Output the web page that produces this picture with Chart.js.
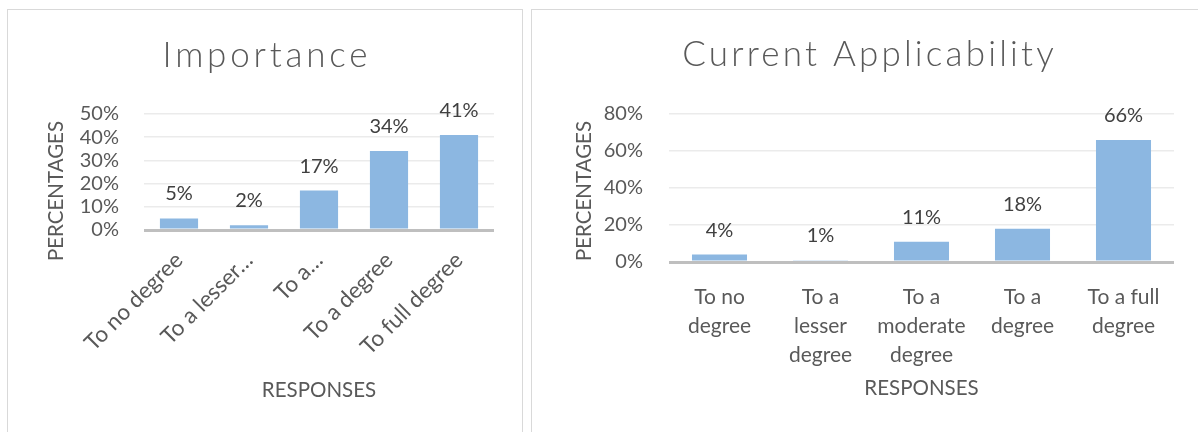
<!DOCTYPE html>
<html>
<head>
<meta charset="utf-8">
<title>Importance / Current Applicability</title>
<script src="https://cdn.jsdelivr.net/npm/chart.js@4.4.1/dist/chart.umd.min.js"></script>
<style>
  html, body { margin: 0; padding: 0; background: #fff; }
  body { width: 1198px; height: 432px; position: relative; overflow: hidden; font-family: Lato, sans-serif; }
  .panel { position: absolute; top: 9px; height: 440px; border: 1px solid #d9d9d9; box-sizing: border-box; }
  #panelLeft { left: 7px; width: 516px; }
  #panelRight { left: 531px; width: 700px; }
  canvas { position: absolute; }
  #importanceChart { left: 8px; top: 10px; }
  #applicabilityChart { left: 532px; top: 10px; }
</style>
</head>
<body>
<div class="panel" id="panelLeft"></div>
<div class="panel" id="panelRight"></div>
<canvas id="importanceChart" width="514" height="422"></canvas>
<canvas id="applicabilityChart" width="666" height="422"></canvas>

<script>
// --- data ---
const importanceLabels = ['To no degree', 'To a lesser\u2026', 'To a\u2026', 'To a degree', 'To full degree'];
const importanceValues = [5, 2, 17, 34, 41];
const importanceTickMax = 50;
const importanceTickStep = 10;

const applicabilityLabels = [
    ['To no', 'degree'],
    ['To a', 'lesser', 'degree'],
    ['To a', 'moderate', 'degree'],
    ['To a', 'degree'],
    ['To a full', 'degree']
];
const applicabilityValues = [4, 1, 11, 18, 66];
const applicabilityTickMax = 80;
const applicabilityTickStep = 20;

const yAxisTitle = 'PERCENTAGES';
const xAxisTitle = 'RESPONSES';

const barColor = '#8cb7e1';
const textColor = '#595959';
const labelColor = '#404040';

// draws the chart title, axis titles and the value labels above bars
const excelTextPlugin = {
    id: 'excelText',
    afterDraw(chart, args, opts) {
        const ctx = chart.ctx;
        const area = chart.chartArea;
        ctx.save();

        // value labels
        ctx.font = '20px Lato';
        ctx.fillStyle = labelColor;
        ctx.textAlign = 'center';
        ctx.textBaseline = 'alphabetic';
        chart.getDatasetMeta(0).data.forEach((bar, i) => {
            ctx.fillText(chart.data.datasets[0].data[i] + '%', bar.x, bar.y - 18);
        });

        // chart title (light, wide spacing)
        ctx.font = '300 35px Lato';
        ctx.fillStyle = textColor;
        ctx.letterSpacing = opts.titleSpacing + 'px';
        ctx.fillText(opts.title, opts.titleX + opts.titleSpacing / 2, opts.titleY);
        ctx.letterSpacing = '0px';

        // axis titles
        ctx.font = '20.5px Lato';
        ctx.textBaseline = 'middle';
        ctx.fillText(xAxisTitle, (area.left + area.right) / 2, opts.xTitleY);
        ctx.translate(opts.yTitleX, opts.yTitleY);
        ctx.rotate(-Math.PI / 2);
        ctx.fillText(yAxisTitle, 0, 0);

        ctx.restore();
    }
};

function makeBarChart(id, labels, values, tickMax, tickStep, look) {
    const ctx = document.getElementById(id).getContext('2d');
    return new Chart(ctx, {
        type: 'bar',
        data: {
            labels: labels,
            datasets: [{
                data: values,
                backgroundColor: barColor,
                categoryPercentage: 1,
                barPercentage: 0.545
            }]
        },
        options: {
            responsive: false,
            animation: false,
            layout: { padding: look.padding },
            plugins: {
                legend: { display: false },
                tooltip: { enabled: false },
                excelText: look.text
            },
            scales: {
                x: {
                    grid: { display: false, drawTicks: false },
                    border: { display: false },
                    ticks: {
                        autoSkip: false,
                        color: textColor,
                        font: { family: 'Lato', size: look.xFontSize, lineHeight: look.xLineHeight },
                        minRotation: look.rotation,
                        maxRotation: look.rotation,
                        padding: look.xTickPadding
                    },
                    afterFit(scale) { scale.height = look.xHeight; }
                },
                y: {
                    min: 0,
                    max: tickMax,
                    border: { display: false },
                    grid: {
                        drawTicks: false,
                        color: c => c.tick && c.tick.value === 0 ? '#bfbfbf' : '#ebebeb',
                        lineWidth: c => c.tick && c.tick.value === 0 ? 3 : 1.5
                    },
                    ticks: {
                        autoSkip: false,
                        stepSize: tickStep,
                        color: textColor,
                        font: { family: 'Lato', size: 20 },
                        padding: look.yTickPadding,
                        callback: v => v + '%'
                    },
                    afterFit(scale) { scale.width = look.yWidth; }
                }
            }
        },
        plugins: [excelTextPlugin]
    });
}

makeBarChart('importanceChart', importanceLabels, importanceValues, importanceTickMax, importanceTickStep, {
    padding: { left: 0, right: 28, top: 104, bottom: 52 },
    yWidth: 136,
    xHeight: 150,
    xFontSize: 22.5,
    xLineHeight: 1.2,
    rotation: 45,
    xTickPadding: 17,
    yTickPadding: 25,
    text: { title: 'Importance', titleX: 257, titleY: 57, titleSpacing: 3.8,
            xTitleY: 380, yTitleX: 48.5, yTitleY: 181 }
});

makeBarChart('applicabilityChart', applicabilityLabels, applicabilityValues, applicabilityTickMax, applicabilityTickStep, {
    padding: { left: 0, right: 24, top: 104, bottom: 50 },
    yWidth: 137,
    xHeight: 120,
    xFontSize: 21,
    xLineHeight: 1.38,
    rotation: 0,
    xTickPadding: 21,
    yTickPadding: 26,
    text: { title: 'Current Applicability', titleX: 336, titleY: 56, titleSpacing: 3.2,
            xTitleY: 378, yTitleX: 52, yTitleY: 181 }
});
</script>
</body>
</html>
